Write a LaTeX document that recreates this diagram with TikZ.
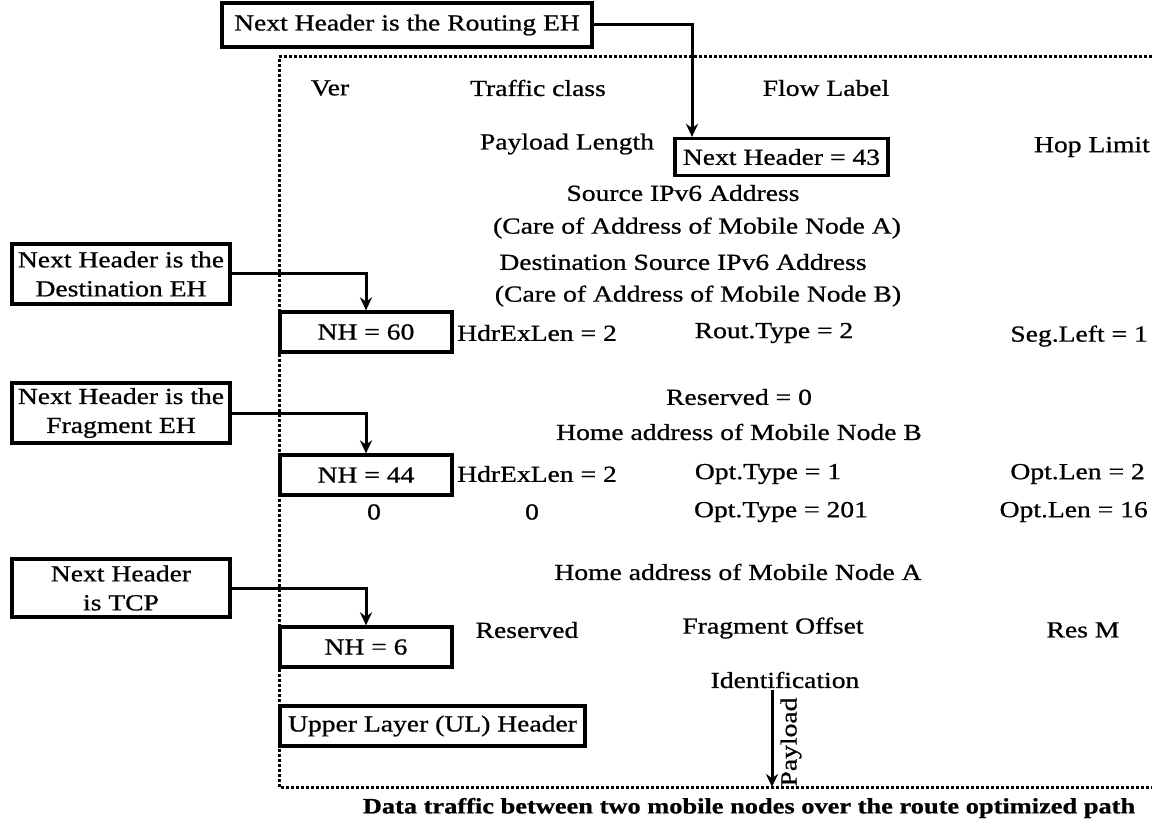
\documentclass[tikz,border=0pt]{standalone}
\usepackage{fontspec}
\setmainfont{Liberation Serif}[FakeStretch=1.2, FakeBold=0.8]
\usetikzlibrary{arrows.meta}
\begin{document}
\begin{tikzpicture}[x=1pt,y=-1pt,
  font=\fontsize{23}{29}\selectfont,
  hbox/.style={draw, line width=3.2pt, inner sep=0pt, align=center},
  lbl/.style={inner sep=0pt},
  rlbl/.style={inner sep=0pt, anchor=east},
  conn/.style={line width=3pt, -{Stealth[length=13pt,width=12pt]}},
  frame/.style={line width=3pt, dash pattern=on 3pt off 2pt}]
\useasboundingbox (0,0) rectangle (1152,829);

% dotted frame (open on the right)
\draw[frame] (1152,57) -- (279,57) -- (279,787) -- (1152,787);

% boxes
\node[hbox, minimum width=370pt, minimum height=44pt] (routing) at (407,25) {Next Header is the Routing EH};
\node[hbox, minimum width=213pt, minimum height=37pt] (nh43) at (781.5,157) {Next Header = 43};
\node[hbox, minimum width=218pt, minimum height=60pt] (dest) at (121,274) {Next Header is the\\Destination EH};
\node[hbox, minimum width=218pt, minimum height=60pt] (frag) at (121,413) {Next Header is the\\Fragment EH};
\node[hbox, minimum width=218pt, minimum height=58pt] (tcp) at (121,588) {Next Header\\is TCP};
\node[hbox, minimum width=172pt, minimum height=40pt] (nh60) at (366,332) {NH = 60};
\node[hbox, minimum width=172pt, minimum height=40pt] (nh44) at (366,475) {NH = 44};
\node[hbox, minimum width=172pt, minimum height=40pt] (nh6) at (366,647) {NH = 6};
\node[hbox, minimum width=305pt, minimum height=40pt] (ul) at (432.5,726) {Upper Layer (UL) Header};

% connectors
\coordinate (r1) at (692,25);
\draw[conn] (routing.east) -- (r1) -- (r1 |- nh43.north);
\draw[conn] (dest.east) -| (nh60.north);
\draw[conn] (frag.east) -| (nh44.north);
\draw[conn] (tcp.east) -| (nh6.north);

% header fields
\node[lbl] (ver) at (330,88) {Ver};
\node[lbl] (tc) at (538,88) {Traffic class};
\node[lbl] (fl) at (826,88) {Flow Label};
\node[lbl] (pl) at (567,144) {Payload Length};
\node[rlbl] (hl) at (1150,147) {Hop Limit};
\node[lbl] (src) at (683,193) {Source IPv6 Address};
\node[lbl] (coaA) at (697,228) {(Care of Address of Mobile Node A)};
\node[lbl] (dst) at (683,262) {Destination Source IPv6 Address};
\node[lbl] (coaB) at (698,296) {(Care of Address of Mobile Node B)};
\node[lbl] (hdr1) at (537,333) {HdrExLen = 2};
\node[lbl] (rt) at (774,333) {Rout.Type = 2};
\node[rlbl] (seg) at (1148,336) {Seg.Left = 1};
\node[lbl] (res0) at (739,397) {Reserved = 0};
\node[lbl] (homeB) at (739,432) {Home address of Mobile Node B};
\node[lbl] (hdr2) at (537,474) {HdrExLen = 2};
\node[lbl] (ot1) at (768,474) {Opt.Type = 1};
\node[rlbl] (ol2) at (1145,474) {Opt.Len = 2};
\node[lbl] (z1) at (374,512) {0};
\node[lbl] (z2) at (532,512) {0};
\node[lbl] (ot201) at (781,512) {Opt.Type = 201};
\node[rlbl] (ol16) at (1148,512) {Opt.Len = 16};
\node[lbl] (homeA) at (738,572) {Home address of Mobile Node A};
\node[lbl] (resv) at (527,630) {Reserved};
\node[lbl] (fo) at (773,628) {Fragment Offset};
\node[lbl] (resm) at (1083,630) {Res M};
\node[lbl] (ident) at (785,680) {Identification};

% payload arrow
\coordinate (p1) at (772,690);
\coordinate (p2) at (772,787);
\draw[conn] (p1) -- (p2);
\node[lbl, rotate=90] (payload) at (791,742) {Payload};

% caption
\node[lbl, font=\fontsize{22}{26}\selectfont\bfseries] (cap) at (749,808) {Data traffic between two mobile nodes over the route optimized path};
\end{tikzpicture}
\end{document}
